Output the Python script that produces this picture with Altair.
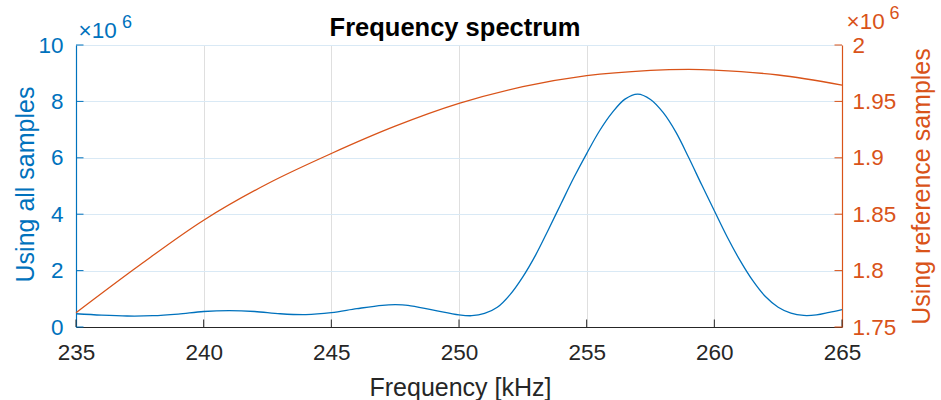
import altair as alt
import pandas as pd

# ---------------- data (values in units of 10^6) ----------------
freq_all = [235, 236, 237, 238, 239, 240, 241, 242, 243, 244, 245, 246, 247, 247.5,
            248, 249, 250, 250.5, 251, 251.5, 252, 252.5, 253, 253.5, 254, 254.5,
            255, 255.5, 256, 256.5, 257, 257.5, 258, 258.5, 259, 259.5, 260, 260.5,
            261, 261.5, 262, 262.5, 263, 263.5, 264, 264.5, 265]
all_samples = [0.47, 0.42, 0.39, 0.40, 0.46, 0.55, 0.58, 0.55, 0.47, 0.44, 0.51, 0.65,
               0.77, 0.79, 0.77, 0.60, 0.43, 0.40, 0.48, 0.70, 1.15, 1.78, 2.55, 3.45,
               4.38, 5.30, 6.15, 6.95, 7.60, 8.08, 8.26, 8.07, 7.60, 6.90, 6.00, 5.05,
               4.12, 3.20, 2.37, 1.65, 1.08, 0.70, 0.49, 0.41, 0.43, 0.52, 0.62]

freq_ref = [235, 237.5, 240, 242.5, 245, 247.5, 250, 252.5, 255, 257.5, 259, 260,
            262.5, 265]
ref_samples = [1.7627, 1.805, 1.8447, 1.877, 1.9038, 1.928, 1.9482, 1.963, 1.9728,
               1.9775, 1.9784, 1.9778, 1.9734, 1.9645]

x_ticks = [235, 240, 245, 250, 255, 260, 265]
left_ticks = [0, 2, 4, 6, 8, 10]
right_ticks = [1.75, 1.8, 1.85, 1.9, 1.95, 2.0]

title_text = "Frequency spectrum"
x_title = "Frequency [kHz]"
left_title = "Using all samples"
right_title = "Using reference samples"

# ---------------- style ----------------
BLUE = "#0072BD"
ORANGE = "#D95319"
DARK = "#262626"
FONT = "Liberation Sans"
W, H = 766, 282
TICK = 7.5
LBL = 22.5
TTL = 25

df_all = pd.DataFrame({"f": freq_all, "v": all_samples})
df_ref = pd.DataFrame({"f": freq_ref, "v": ref_samples})
df_xt = pd.DataFrame({"f": x_ticks})
df_lt = pd.DataFrame({"v": left_ticks})
df_rt = pd.DataFrame({"v": right_ticks})

x_scale = alt.Scale(domain=[235, 265], nice=False, zero=False)
yl_scale = alt.Scale(domain=[0, 10], nice=False)
yr_scale = alt.Scale(domain=[1.75, 2.0], nice=False, zero=False)

x_axis = alt.Axis(
    values=x_ticks, format="d", title=x_title,
    grid=True, gridColor="#dfdfdf", gridWidth=1,
    domainColor=DARK, domainWidth=1.2, ticks=False, tickSize=0,
    labelFont=FONT, labelFontSize=LBL, labelColor=DARK, labelPadding=32.5,
    labelBaseline="alphabetic", labelFlush=False, labelOverlap=False,
    titleFont=FONT, titleFontSize=TTL, titleFontWeight="normal", titleColor=DARK,
    titleBaseline="alphabetic", titleAlign="center", titleX=W / 2 + 1, titleY=68,
)
yl_axis = alt.Axis(
    values=left_ticks, format="d", title=left_title, orient="left",
    grid=True, gridColor="#d9e9f5", gridWidth=1,
    domainColor=BLUE, domainWidth=1.2, ticks=False, tickSize=0,
    labelFont=FONT, labelFontSize=LBL, labelColor=BLUE, labelPadding=13,
    labelFlush=False, labelOverlap=False,
    titleFont=FONT, titleFontSize=TTL, titleFontWeight="normal", titleColor=BLUE,
    titleAngle=270, titleAlign="center", titleBaseline="alphabetic",
    titleX=-43, titleY=139,
)
yr_axis = alt.Axis(
    values=right_ticks, format="~r", title=right_title, orient="right",
    grid=False, domainColor=ORANGE, domainWidth=1.2, ticks=False, tickSize=0,
    labelFont=FONT, labelFontSize=LBL, labelColor=ORANGE, labelPadding=10,
    labelFlush=False, labelOverlap=False,
    titleFont=FONT, titleFontSize=TTL, titleFontWeight="normal", titleColor=ORANGE,
    titleAngle=270, titleAlign="center", titleBaseline="alphabetic",
    titleX=87, titleY=141,
)

X = alt.X("f:Q", scale=x_scale, axis=x_axis)
YL = alt.Y("v:Q", scale=yl_scale, axis=yl_axis)
YR = alt.Y("v:Q", scale=yr_scale, axis=yr_axis)

# ---------------- left (blue) group ----------------
blue_line = alt.Chart(df_all).mark_line(
    color=BLUE, strokeWidth=1.3, interpolate="catmull-rom"
).encode(x=X, y=YL)
left_tick_marks = alt.Chart(df_lt).mark_rule(color=BLUE, strokeWidth=1).encode(
    y=YL, x=alt.value(0), x2=alt.value(TICK),
)
x_tick_marks = alt.Chart(df_xt).mark_rule(color=DARK, strokeWidth=1).encode(
    x=X, y=alt.value(H), y2=alt.value(H - TICK),
)


def label(text, x, y, size, color, weight="normal", align="left"):
    return alt.Chart(pd.DataFrame({"s": [text]})).mark_text(
        font=FONT, fontSize=size, fontWeight=weight, color=color,
        align=align, baseline="alphabetic",
    ).encode(text="s:N", x=alt.value(x), y=alt.value(y))


left_group = alt.layer(
    blue_line, left_tick_marks, x_tick_marks,
    label("×10", 2.5, -7, 22.5, BLUE),
    label("6", 46, -17, 18, BLUE),
    label(title_text, 379, -9, 25.5, "#000000", weight="bold", align="center"),
)

# ---------------- right (orange) group ----------------
orange_line = alt.Chart(df_ref).mark_line(
    color=ORANGE, strokeWidth=1.3, interpolate="catmull-rom"
).encode(x=X, y=YR)
right_tick_marks = alt.Chart(df_rt).mark_rule(color=ORANGE, strokeWidth=1).encode(
    y=YR, x=alt.value(W), x2=alt.value(W - TICK),
)
right_group = alt.layer(
    orange_line, right_tick_marks,
    label("×10", 770.5, -16, 22.5, ORANGE),
    label("6", 813.5, -26, 18, ORANGE),
)

chart = alt.layer(left_group, right_group).resolve_scale(
    y="independent"
).properties(
    width=W, height=H,
    autosize=alt.AutoSizeParams(type="none"),
    padding={"left": 76, "top": 45, "right": 941 - 76 - W, "bottom": 400 - 45 - H},
    background="white",
).configure_view(strokeWidth=0)

chart.save("out.html", embed_options={"renderer": "svg", "actions": False})
